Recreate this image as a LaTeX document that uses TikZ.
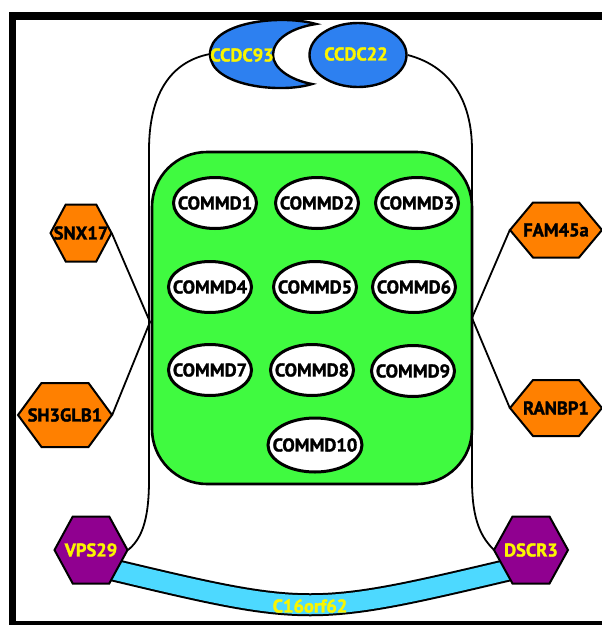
\documentclass[tikz,border=0pt]{standalone}
\usepackage{fontspec}
\setmainfont{PT Sans}
\newfontfamily\lblfont{PT Sans Bold}[FakeBold=1.6]
\usetikzlibrary{shapes.geometric}

\definecolor{hexorange}{RGB}{255,128,0}
\definecolor{hexpurple}{RGB}{144,0,144}
\definecolor{bandcyan}{RGB}{77,217,255}
\definecolor{boxgreen}{RGB}{64,250,64}
\definecolor{ccdcblue}{RGB}{45,128,240}
\definecolor{labelyellow}{RGB}{250,245,0}

% zero-width text, so an ellipse keeps its given size
\newcommand{\zw}[1]{\makebox[0pt]{#1}}

% hexagon: #1 outline style, #2 label style, #3 name, #4 x, #5 y, #6 width, #7 height, #8 text
\newcommand{\hexnode}[8]{%
  \draw[#1] ({#4-#6/2},#5) -- ({#4-#6/4},{#5-#7/2}) -- ({#4+#6/4},{#5-#7/2})
    -- ({#4+#6/2},#5) -- ({#4+#6/4},{#5+#7/2}) -- ({#4-#6/4},{#5+#7/2}) -- cycle;
  \node[#2, minimum width=#6pt, minimum height=#7pt] (#3) at (#4,#5) {#8};
}

\begin{document}
\begin{tikzpicture}[x=1pt, y=-1pt,
  lbl/.style={font=\lblfont\fontsize{18.5}{18.5}\selectfont, inner sep=0pt},
  darklbl/.style={lbl, text=black},
  brightlbl/.style={lbl, text=labelyellow},
  link/.style={draw=black, line width=1.8pt},
  commd/.style={ellipse, draw=black, line width=3pt, fill=white,
    minimum width=83pt, minimum height=51pt, inner sep=0pt,
    font=\lblfont\fontsize{18.5}{18.5}\selectfont},
  orangehex/.style={draw=black, line width=2pt, fill=hexorange, line join=miter},
  purplehex/.style={draw=black, line width=2pt, fill=hexpurple, line join=miter},
  hexlabel/.style={darklbl, rectangle},
  hexlabelbright/.style={brightlbl, rectangle}]

\useasboundingbox (0,0) rectangle (602,625);

% frame bars
\fill[black] (9,12) rectangle (602,20);
\fill[black] (9,12) rectangle (16,625);
\fill[black] (9,621) rectangle (602,625);

% end points of the enclosing outline
\coordinate (ccdcw) at (210,54);
\coordinate (jl) at (150,322);
\coordinate (jr) at (472,318);

% nodes whose positions the outline uses
\node[ellipse, draw=black, line width=2.4pt, fill=ccdcblue,
      minimum width=97pt, minimum height=64pt, inner sep=0pt] (CCDC22) at (358,55) {};

% enclosing outline
\draw[link] (ccdcw) .. controls (168,62) and (149,98) .. (149,150)
  -- (149,480) .. controls (149,524) and (140,540) .. (128,550);
\draw[link] (CCDC22.east) .. controls (450,66) and (472,100) .. (472,150)
  -- (472,480) .. controls (472,522) and (482,538) .. (494,550);

% complex body
\draw[line width=2.6pt, fill=boxgreen, rounded corners=55pt] (152,152) rectangle (472,484);

\node[commd] (COMMD1) at (215,203) {\zw{COMMD1}};
\node[commd] (COMMD2) at (317,203) {\zw{COMMD2}};
\node[commd] (COMMD3) at (417,203) {\zw{COMMD3}};
\node[commd] (COMMD4) at (210,287) {\zw{COMMD4}};
\node[commd] (COMMD5) at (315,287) {\zw{COMMD5}};
\node[commd] (COMMD6) at (414,287) {\zw{COMMD6}};
\node[commd] (COMMD7) at (210,370) {\zw{COMMD7}};
\node[commd] (COMMD8) at (312,370) {\zw{COMMD8}};
\node[commd] (COMMD9) at (413,371) {\zw{COMMD9}};
\node[commd, minimum width=94pt, minimum height=54pt] (COMMD10) at (315,445) {\zw{COMMD10}};

% side partners
\hexnode{orangehex}{hexlabel}{SNX17}{81}{233}{61}{57}{SNX17}
\hexnode{orangehex}{hexlabel}{SH3GLB1}{65}{415}{94}{64}{SH3GLB1}
\hexnode{orangehex}{hexlabel}{FAM45a}{556}{230}{92}{55}{FAM45a}
\hexnode{orangehex}{hexlabel}{RANBP1}{556}{408}{92}{56}{RANBP1}

\draw[link] (SNX17.east) -- (jl) -- (SH3GLB1.east);
\draw[link] (FAM45a.west) -- (jr) -- (RANBP1.west);

% C16orf62 band
\coordinate (bandl) at (105,568);
\coordinate (bandr) at (517,568);
\draw[line width=23pt, black] (bandl) .. controls (310,617) .. (bandr);
\draw[line width=19pt, bandcyan] (bandl) .. controls (310,617) .. (bandr);
\node[brightlbl] (C16orf62) at (310,606) {C16orf62};

% bottom partners
\hexnode{purplehex}{hexlabelbright}{VPS29}{91}{550}{73}{67}{VPS29}
\hexnode{purplehex}{hexlabelbright}{DSCR3}{531}{550}{74}{67}{DSCR3}

% CCDC93 crescent
\draw[line width=2.4pt, fill=ccdcblue, line join=miter]
  (316,24) .. controls (280,14) and (210,22) .. (210,54)
  .. controls (210,86) and (280,94) .. (312,84)
  .. controls (290,80) and (273,68) .. (273,55)
  .. controls (273,40) and (290,28) .. cycle;
\node[brightlbl] (CCDC93) at (242,55) {CCDC93};
\node[brightlbl] (CCDC22label) at (356,54) {CCDC22};

\end{tikzpicture}
\end{document}
